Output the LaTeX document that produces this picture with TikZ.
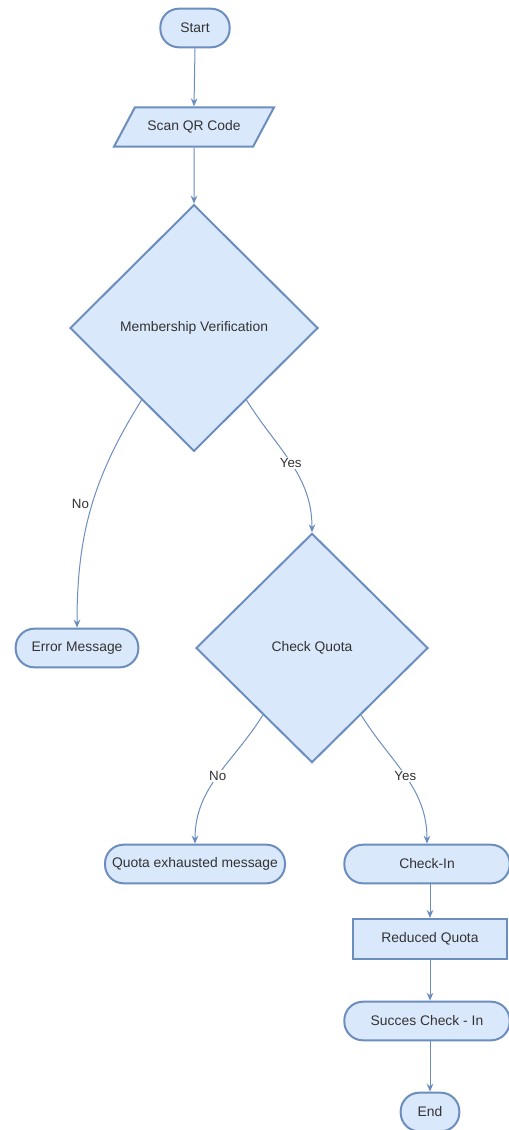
\documentclass[tikz,border=0pt]{standalone}
\usepackage{fontspec}
\setmainfont{Liberation Sans}
\usetikzlibrary{arrows.meta,shapes.geometric,calc}
\definecolor{cFill}{RGB}{218,232,252}
\definecolor{cLine}{RGB}{108,142,191}
\definecolor{cText}{RGB}{51,51,51}
\tikzset{
  B/.style     = {draw=cLine, fill=cFill, line width=1.5pt, text=cText,
                  font=\fontsize{10.4}{12}\selectfont, align=center, inner sep=0pt},
  termB/.style = {B, rounded corners=14pt, minimum height=29pt},
  procB/.style = {B, minimum height=30pt},
  ioB/.style   = {B, trapezium, trapezium left angle=62, trapezium right angle=118,
                  trapezium stretches body, inner ysep=10pt},
  decB/.style  = {B, diamond},
  A/.style     = {-{Stealth[length=6pt,width=5pt]}, draw=cLine, line width=0.75pt},
  lbl/.style   = {fill=white, text=cText, font=\fontsize{10}{12}\selectfont, inner sep=1pt},
}

\begin{document}
\begin{tikzpicture}[x=0.75pt, y=0.75pt]
\useasboundingbox (0,0) rectangle (509,-1130);

%% ─── Main column ─────────────────────────────────────────────────
\node[termB, minimum width=52pt] (start) at (195,-28) {Start};
\node[ioB, minimum width=120pt] (scan) at (194,-127) {Scan QR Code};
\node[decB, minimum width=186pt, minimum height=185pt] (mv) at (194,-328)
  {Membership Verification};

\draw[A] (start.south) -- (scan.north);
\draw[A] (scan.south) -- (mv.north);

%% ─── Membership result ───────────────────────────────────────────
\node[termB, minimum width=92pt] (err) at (77,-648) {Error Message};
\node[decB, minimum width=174pt, minimum height=172pt] (cq) at (312,-648)
  {Check Quota};

\draw[A] ($(mv.south)!0.42!(mv.west)$) to[out=238,in=90]
  node[lbl, pos=0.48, left=1pt] {No} (err.north);
\draw[A] ($(mv.south)!0.42!(mv.east)$) to[out=-58,in=90]
  node[lbl, pos=0.5] {Yes} (cq.north);

%% ─── Quota result ────────────────────────────────────────────────
\node[termB, minimum width=135pt] (qex) at (195,-864) {Quota exhausted message};
\node[termB, minimum width=124pt] (chk) at (427,-864) {Check-In};

\draw[A] ($(cq.south)!0.42!(cq.west)$) to[out=238,in=90]
  node[lbl, pos=0.5] {No} (qex.north);
\draw[A] ($(cq.south)!0.42!(cq.east)$) to[out=-58,in=90]
  node[lbl, pos=0.5] {Yes} (chk.north);

%% ─── Check-in path ───────────────────────────────────────────────
\node[procB, minimum width=116pt] (red) at (430,-939) {Reduced Quota};
\node[termB, minimum width=124pt] (succ) at (427,-1021) {Succes Check - In};
\node[termB, minimum width=44pt] (end) at (430,-1112) {End};

\draw[A] (red.north |- chk.south) -- (red.north);
\draw[A] (red.south) -- (red.south |- succ.north);
\draw[A] (end.north |- succ.south) -- (end.north);

\end{tikzpicture}
\end{document}
